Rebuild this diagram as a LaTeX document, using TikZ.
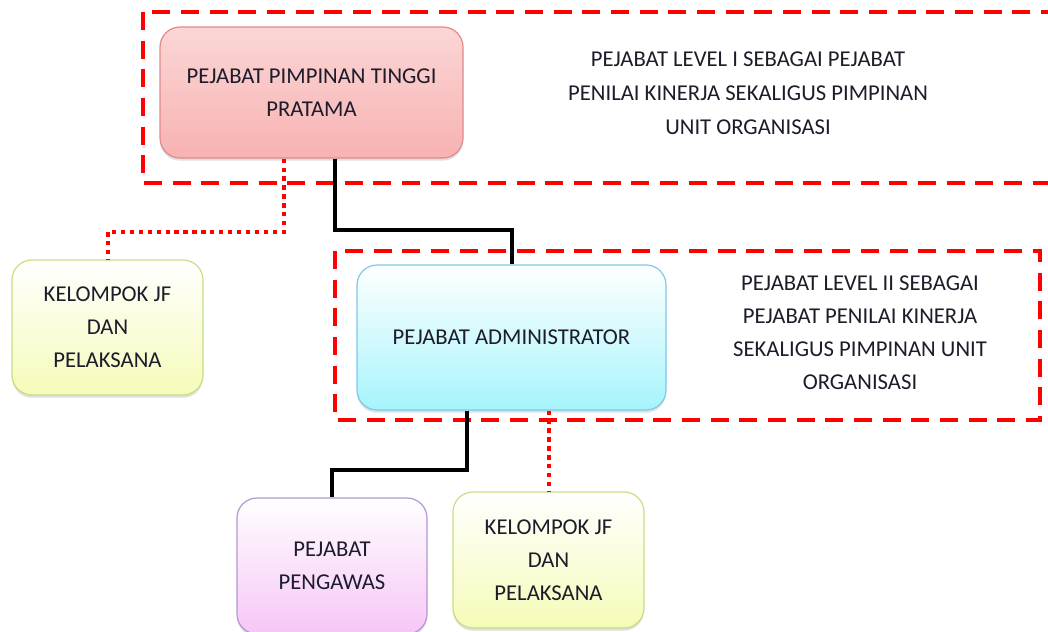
\documentclass[tikz,border=0pt]{standalone}
\usepackage{fontspec}
\setmainfont{Carlito}
\usetikzlibrary{shadows}
\definecolor{txt}{HTML}{1C1C2A}
\definecolor{pinkfill}{HTML}{F8B2B2}
\definecolor{pinktop}{HTML}{FBD6D6}
\definecolor{pinkline}{HTML}{E08A8A}
\definecolor{cyanfill}{HTML}{A6F4FC}
\definecolor{cyanline}{HTML}{80C8E6}
\definecolor{limefill}{HTML}{F6FBB8}
\definecolor{limeline}{HTML}{C6DE86}
\definecolor{violetfill}{HTML}{F6C6F6}
\definecolor{violetline}{HTML}{B496D2}
\tikzset{
  unitbox/.style={rectangle, rounded corners=15pt, line width=0.9pt, align=center,
    font=\fontsize{17}{24.75}\selectfont, text=txt, inner sep=0pt,
    drop shadow={opacity=0.25, shadow xshift=0pt, shadow yshift=-2pt}},
  pinkbox/.style={unitbox, draw=pinkline, top color=pinktop, middle color=white, bottom color=pinkfill},
  cyanbox/.style={unitbox, draw=cyanline, top color=white, bottom color=cyanfill},
  limebox/.style={unitbox, draw=limeline, top color=white, bottom color=limefill},
  violetbox/.style={unitbox, draw=violetline, top color=white, bottom color=violetfill},
  levelframe/.style={draw=red, line width=3pt, dash pattern=on 13.5pt off 8pt},
  solidlink/.style={draw=black, line width=3pt},
  dottedlink/.style={draw=red, line width=3pt, dash pattern=on 3.2pt off 3.5pt},
  note/.style={align=center, text=txt, font=\fontsize{17}{25.5}\selectfont},
}
\begin{document}
\begin{tikzpicture}[x=0.75pt, y=-0.75pt]
  \useasboundingbox (0,0) rectangle (1048,631);
  \clip (0,0) rectangle (1048,631);

  % level frames
  \draw[levelframe] (143,12) rectangle (1075,183);
  \draw[levelframe] (335,251) rectangle (1040,420);

  % units
  \node[pinkbox, minimum width=227.25pt, minimum height=98.25pt] (ppt) at (311.5,92.5)
    {PEJABAT PIMPINAN TINGGI\\PRATAMA};
  \node[limebox, minimum width=143.25pt, minimum height=101.25pt] (jfA) at (107.5,327.5)
    {KELOMPOK JF\\DAN\\PELAKSANA};
  \node[cyanbox, minimum width=231.75pt, minimum height=108.75pt] (adm) at (511.5,337.5)
    {PEJABAT ADMINISTRATOR};
  \node[violetbox, minimum width=142.5pt, minimum height=102pt] (pgw) at (332,566)
    {PEJABAT\\PENGAWAS};
  \node[limebox, minimum width=143.25pt, minimum height=102pt] (jfB) at (548.5,560)
    {KELOMPOK JF\\DAN\\PELAKSANA};

  % level notes
  \node[note] (lvA) at (748,93)
    {PEJABAT LEVEL I SEBAGAI PEJABAT\\PENILAI KINERJA SEKALIGUS PIMPINAN\\UNIT ORGANISASI};
  \node[note, font=\fontsize{17}{24.75}\selectfont] (lvB) at (860,333)
    {PEJABAT LEVEL II SEBAGAI\\PEJABAT PENILAI KINERJA\\SEKALIGUS PIMPINAN UNIT\\ORGANISASI};

  % connectors
  \coordinate (bendA) at (335,230);
  \coordinate (dotA) at (284,232);
  \coordinate (bendB) at (467,470);
  \draw[solidlink] (bendA |- ppt.south) -- (bendA) -| (adm.north);
  \draw[dottedlink] (dotA |- ppt.south) -- (dotA) -| (jfA.north);
  \draw[solidlink] (bendB |- adm.south) -- (bendB) -| (pgw.north);
  \draw[dottedlink] (adm.south -| jfB.north) -- (jfB.north);
\end{tikzpicture}
\end{document}
